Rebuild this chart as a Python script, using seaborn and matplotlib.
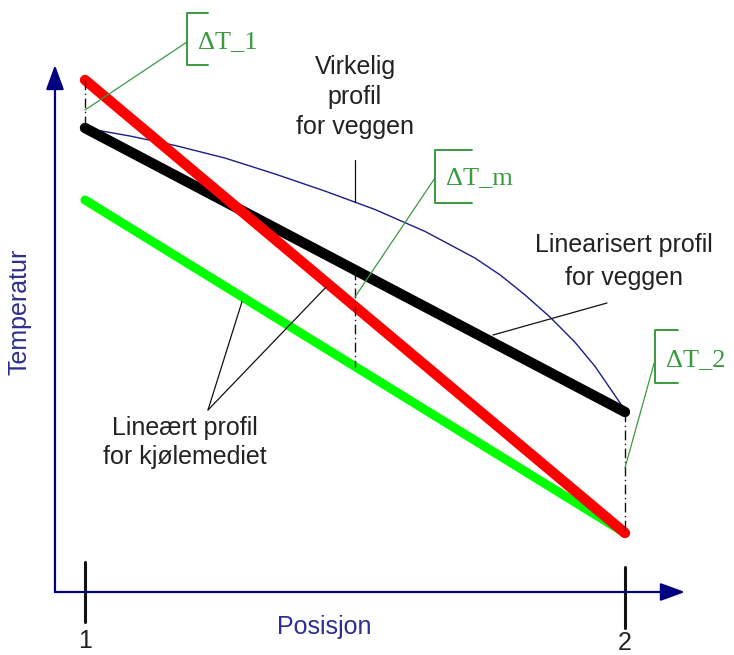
import numpy as np
import pandas as pd
import seaborn as sns
import matplotlib.pyplot as plt

# posisjon 1 og 2, temperatur i vilkaarlige enheter
posisjon = [1.0, 2.0]
temp_gronn = [39.2, 5.9]       # lineaert profil, kjolemedium (gronn)
temp_rod = [51.2, 5.9]         # lineaert profil, kjolemedium (rod)
temp_vegg_lin = [46.4, 18.0]   # linearisert profil for veggen (svart)

# virkelig profil for veggen (tynn blaa kurve)
pos_vegg = [1.0, 1.083, 1.167, 1.259, 1.352, 1.444, 1.537, 1.63, 1.722,
            1.769, 1.815, 1.861, 1.907, 1.944, 1.972, 1.991, 2.0]
temp_vegg = [46.4, 45.6, 44.65, 43.4, 41.8, 40.1, 38.25, 36.05, 33.4,
             31.7, 29.7, 27.5, 25.0, 22.6, 20.4, 18.9, 18.0]

tick_pos = [1.0, 2.0]
tick_labels = ['1', '2']
pos_mid = 1.5

# farger og fonter
navy = '#000080'
label_navy = '#2e2e8e'
text_grey = '#222222'
dt_green = '#3a9a40'
label_size = 18
dt_size = 19

sns.set_theme(style="white")
plt.rcParams['font.family'] = ['Liberation Sans', 'DejaVu Sans']

fig = plt.figure(figsize=(7.34, 6.55), dpi=100)
ax = fig.add_axes([0, 0, 1, 1])
ax.set_xlim(0.8426, 2.2019)
ax.set_ylim(-6.3, 59.2)
ax.axis('off')

# akser med piler
arrow = dict(arrowstyle='-|>,head_length=0.6,head_width=0.22', color=navy,
             lw=1.6, mutation_scale=25, shrinkA=0, shrinkB=0)
ax.annotate('', xy=(0.9444, 52.7), xytext=(0.9444, 0), arrowprops=arrow)
ax.annotate('', xy=(2.1111, 0), xytext=(0.9444, 0), arrowprops=arrow)

# tikkstreker og tikketiketter
ax.plot([tick_pos[0]] * 2, [3.0, -3.0], color='#111111', lw=2.2)
ax.plot([tick_pos[1]] * 2, [2.5, -3.6], color='#111111', lw=2.2)
ax.text(tick_pos[0], -4.95, tick_labels[0], ha='center', va='center',
        fontsize=label_size, color=text_grey)
ax.text(tick_pos[1], -5.15, tick_labels[1], ha='center', va='center',
        fontsize=label_size, color=text_grey)

ax.text(1.4426, -3.5, 'Posisjon', ha='center', va='center',
        fontsize=label_size, color=label_navy)
ax.text(0.8796, 28.0, 'Temperatur', ha='center', va='center', rotation=90,
        fontsize=label_size, color=label_navy)

# profilene
sns.lineplot(x=pos_vegg, y=temp_vegg, ax=ax, color='#1c1c8a', lw=1.0,
             sort=False, estimator=None, solid_joinstyle='round')
sns.lineplot(x=posisjon, y=temp_gronn, ax=ax, color='#00ff00', lw=6.5,
             solid_capstyle='round', estimator=None)
sns.lineplot(x=posisjon, y=temp_vegg_lin, ax=ax, color='black', lw=7.5,
             solid_capstyle='round', estimator=None)
sns.lineplot(x=posisjon, y=temp_rod, ax=ax, color='#ff0000', lw=7.5,
             solid_capstyle='round', estimator=None)

# strek-prikk linjer for temperaturdifferansene
dashdot = dict(color='#111111', lw=1.0, dashes=(7, 2.5, 1, 2.5))
ax.plot([posisjon[0]] * 2, [temp_rod[0], temp_vegg_lin[0]], **dashdot)
ax.plot([pos_mid] * 2, [np.interp(pos_mid, posisjon, temp_vegg_lin),
                        np.interp(pos_mid, posisjon, temp_gronn)], **dashdot)
ax.plot([posisjon[1]] * 2, [temp_vegg_lin[1], temp_rod[1]], **dashdot)

# tekster med pekere
def multiline(x, ys, lines):
    for y, s in zip(ys, lines):
        ax.text(x, y, s, ha='center', va='center', fontsize=label_size, color=text_grey)

multiline(pos_mid, [52.5, 49.5, 46.5], ['Virkelig', 'profil', 'for veggen'])
ax.plot([pos_mid, pos_mid], [43.2, np.interp(pos_mid, pos_vegg, temp_vegg)],
        color='#111111', lw=0.9)

multiline(1.9981, [34.7, 31.4], ['Linearisert profil', 'for veggen'])
ax.plot([1.9667, 1.7556], [28.9, 25.7], color='#111111', lw=0.9)

multiline(1.1852, [16.4, 13.5], ['Lineært profil', 'for kjølemediet'])
ax.plot([1.2278, 1.2907], [18.2, np.interp(1.2907, posisjon, temp_gronn) - 0.5],
        color='#111111', lw=0.9)
ax.plot([1.2278, 1.4463], [18.2, np.interp(1.4463, posisjon, temp_rod) - 0.5],
        color='#111111', lw=0.9)

# Delta T etiketter med klammer
def dt_label(x0, y_top, y_bot, x1, ytext, label, target):
    ax.plot([x1, x0, x0, x1], [y_top, y_top, y_bot, y_bot], color=dt_green, lw=1.4)
    ax.text(x0 + 0.021, ytext, label, ha='left', va='center', fontsize=dt_size,
            color=dt_green, family=['Liberation Serif', 'DejaVu Serif'])
    ax.plot([x0, target[0]], [ytext, target[1]], color=dt_green, lw=0.9)

dt_label(1.1889, 57.9, 52.7, 1.2278, 55.0, 'ΔT_1', (1.0, 48.2))
dt_label(1.6481, 44.2, 38.9, 1.7167, 41.4, 'ΔT_m', (pos_mid, 29.5))
dt_label(2.0556, 26.2, 20.9, 2.0981, 23.2, 'ΔT_2', (2.0, 12.4))

fig.savefig('out.png', dpi=100, facecolor='white')
plt.close()
